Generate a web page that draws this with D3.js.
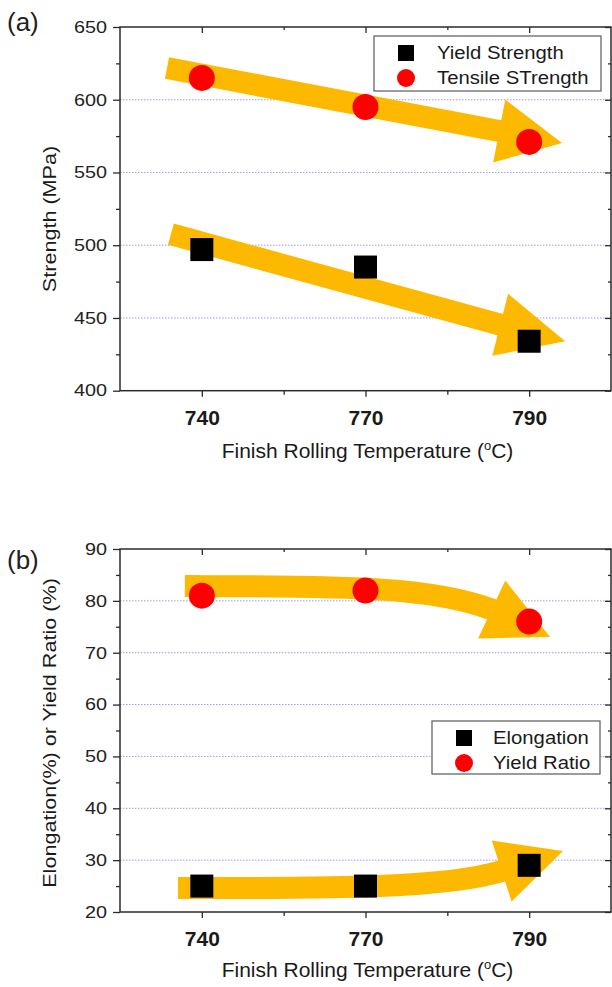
<!DOCTYPE html>
<html>
<head>
<meta charset="utf-8">
<script src="https://cdn.jsdelivr.net/npm/d3@7"></script>
<style>
  html, body { margin: 0; padding: 0; background: #fff; }
  svg { display: block; font-family: "Liberation Sans", Arial, sans-serif; }
</style>
</head>
<body>
<script>
// ---------------- data ----------------
const categories = ["740", "770", "790"];
const yieldStrength = [497, 485, 434];
const tensileStrength = [615, 595, 571];
const elongation = [25, 25, 29];
const yieldRatio = [81, 82, 76];
const strengthTicks = [400, 450, 500, 550, 600, 650];
const strengthMinor = [425, 475, 525, 575, 625];
const percentTicks = [20, 30, 40, 50, 60, 70, 80, 90];
const percentMinor = [25, 35, 45, 55, 65, 75, 85];
const xMinor = [0.5, 1.5];
// trend arrows (annotation) in data coordinates: [category index, value]
const arrowTensileShaft = [[-0.213, 621.8], [1.817, 578.5]];
const arrowTensileTip = [2.201, 570.2];
const arrowYieldShaft = [[-0.189, 507.6], [1.823, 445.4]];
const arrowYieldTip = [2.220, 434.0];
const arrowRatioShaft = [[-0.104, 82.87], [0.780, 82.7], [1.375, 83.1], [1.771, 78.33]];
const arrowRatioTip = [2.128, 73.03];
const arrowElongShaft = [[-0.146, 24.63], [0.720, 24.63], [1.482, 24.44], [1.832, 27.91]];
const arrowElongTip = [2.207, 31.77];

// ---------------- setup ----------------
const W = 612, H = 987;
const svg = d3.select("body").append("svg").attr("width", W).attr("height", H);
const ORANGE = "#FDB800";
const AXIS = "#2b2b2b";
const GRID = "#9a9af0";

const x = d3.scaleLinear().domain([-0.5, 2.5]).range([120, 611]);

function drawArrow(g, y, shaft, tip) {
  const pts = shaft.map(p => [x(p[0]), y(p[1])]);
  const t = [x(tip[0]), y(tip[1])];
  const end = pts[pts.length - 1];
  const dx = t[0] - end[0], dy = t[1] - end[1];
  const L = Math.hypot(dx, dy);
  const ux = dx / L, uy = dy / L;
  const p = d3.path();
  p.moveTo(pts[0][0], pts[0][1]);
  if (pts.length === 4) p.bezierCurveTo(pts[1][0], pts[1][1], pts[2][0], pts[2][1], end[0], end[1]);
  else p.lineTo(end[0], end[1]);
  p.lineTo(end[0] + ux * 6, end[1] + uy * 6);
  g.append("path").attr("d", p.toString()).attr("fill", "none")
    .attr("stroke", ORANGE).attr("stroke-width", 22).attr("stroke-linecap", "butt");
  const hw = 32, nx = -uy, ny = ux;
  g.append("polygon")
    .attr("points", [[end[0] + nx * hw, end[1] + ny * hw], t, [end[0] - nx * hw, end[1] - ny * hw]].map(q => q.join(",")).join(" "))
    .attr("fill", ORANGE);
}

function panel(opts) {
  const { top, bottom, domain, ticks, minor, label, ytitle, ytitleY, legend, series, arrows, xtitleY, letterY } = opts;
  const left = 120, right = 611;
  const y = d3.scaleLinear().domain(domain).range([bottom, top]);
  const g = svg.append("g");

  // panel letter
  g.append("text").attr("x", 7).attr("y", letterY).attr("font-size", 26).attr("fill", "#222").text(label);

  // grid (dotted)
  g.append("g").selectAll("line").data(ticks.filter(v => v !== domain[0] && v !== domain[1]))
    .join("line")
    .attr("x1", left).attr("x2", right).attr("y1", d => y(d)).attr("y2", d => y(d))
    .attr("stroke", GRID).attr("stroke-width", 1).attr("stroke-dasharray", "1.5,1.5");

  // arrows
  const ga = g.append("g");
  arrows.forEach(a => drawArrow(ga, y, a[0], a[1]));

  // markers
  series.forEach(s => {
    const vals = s.values;
    if (s.shape === "square") {
      g.append("g").selectAll("rect").data(vals).join("rect")
        .attr("x", (d, i) => x(i) - 11.5).attr("y", d => y(d) - 11.5)
        .attr("width", 23).attr("height", 23).attr("fill", "#000");
    } else {
      g.append("g").selectAll("circle").data(vals).join("circle")
        .attr("cx", (d, i) => x(i)).attr("cy", d => y(d)).attr("r", 13).attr("fill", "#ff0000");
    }
  });

  // axes
  const axL = g.append("g").attr("transform", `translate(${left},0)`)
    .call(d3.axisLeft(y).tickValues(ticks).tickSize(7).tickPadding(6).tickSizeOuter(0));
  axL.select(".domain").remove();
  axL.selectAll("line").attr("stroke", AXIS).attr("stroke-width", 1.3);
  axL.selectAll("text").attr("font-size", 16.5).attr("fill", "#222")
    .attr("font-family", "Liberation Sans, Arial, sans-serif")
    .attr("x", -13 / 1.2).attr("transform", "scale(1.2,1)");
  const axLm = g.append("g").attr("transform", `translate(${left},0)`)
    .call(d3.axisLeft(y).tickValues(minor).tickSize(4).tickFormat(""));
  axLm.select(".domain").remove();
  axLm.selectAll("line").attr("stroke", AXIS).attr("stroke-width", 1.3);

  const axR = g.append("g").attr("transform", `translate(${right},0)`)
    .call(d3.axisRight(y).tickValues(ticks).tickSize(-6).tickFormat(""));
  axR.select(".domain").remove();
  axR.selectAll("line").attr("stroke", AXIS).attr("stroke-width", 1.3);
  const axRm = g.append("g").attr("transform", `translate(${right},0)`)
    .call(d3.axisRight(y).tickValues(minor).tickSize(-3).tickFormat(""));
  axRm.select(".domain").remove();
  axRm.selectAll("line").attr("stroke", AXIS).attr("stroke-width", 1.3);

  const axB = g.append("g").attr("transform", `translate(0,${bottom})`)
    .call(d3.axisBottom(x).tickValues([0, 1, 2]).tickSize(6).tickFormat(i => categories[i]));
  axB.select(".domain").remove();
  axB.selectAll("line").attr("stroke", AXIS).attr("stroke-width", 1.3);
  axB.selectAll("text").attr("font-size", 21).attr("font-weight", "bold").attr("fill", "#1a1a1a")
    .attr("font-family", "Liberation Sans, Arial, sans-serif")
    .attr("y", 19.5);
  const axBm = g.append("g").attr("transform", `translate(0,${bottom})`)
    .call(d3.axisBottom(x).tickValues(xMinor).tickSize(4).tickFormat(""));
  axBm.select(".domain").remove();
  axBm.selectAll("line").attr("stroke", AXIS).attr("stroke-width", 1.3);

  const axT = g.append("g").attr("transform", `translate(0,${top})`)
    .call(d3.axisTop(x).tickValues([0, 1, 2]).tickSize(-6).tickFormat(""));
  axT.select(".domain").remove();
  axT.selectAll("line").attr("stroke", AXIS).attr("stroke-width", 1.3);
  const axTm = g.append("g").attr("transform", `translate(0,${top})`)
    .call(d3.axisTop(x).tickValues(xMinor).tickSize(-3).tickFormat(""));
  axTm.select(".domain").remove();
  axTm.selectAll("line").attr("stroke", AXIS).attr("stroke-width", 1.3);

  // frame
  g.append("rect").attr("x", left).attr("y", top).attr("width", right - left).attr("height", bottom - top)
    .attr("fill", "none").attr("stroke", AXIS).attr("stroke-width", 1.5);

  // y title
  g.append("g").attr("transform", `translate(50,${ytitleY}) rotate(-90)`)
    .append("text").attr("text-anchor", "middle").attr("dy", "0.35em")
    .attr("transform", "scale(1.2,1)").attr("font-size", 18).attr("fill", "#1a1a1a").text(ytitle);

  // x title
  const xt = g.append("text").attr("x", (left + right) / 2 + 2).attr("y", xtitleY).attr("text-anchor", "middle")
    .attr("font-size", 21).attr("fill", "#1a1a1a");
  xt.append("tspan").text("Finish Rolling Temperature (");
  xt.append("tspan").attr("font-size", 13).attr("dy", -8).text("o");
  xt.append("tspan").attr("dy", 8).text("C)");

  // legend
  const lg = g.append("g");
  lg.append("rect").attr("x", legend.x).attr("y", legend.y).attr("width", legend.w).attr("height", legend.h)
    .attr("fill", "#fff").attr("stroke", "#666").attr("stroke-width", 1.3);
  legend.items.forEach((it, k) => {
    const cy = legend.y + 17 + k * 25;
    if (it.shape === "square") {
      lg.append("rect").attr("x", legend.mx - 8).attr("y", cy - 8).attr("width", 16).attr("height", 16).attr("fill", "#000");
    } else {
      lg.append("circle").attr("cx", legend.mx).attr("cy", cy).attr("r", 9).attr("fill", "#ff0000");
    }
    lg.append("g").attr("transform", `translate(${legend.tx},${cy})`)
      .append("text").attr("dy", "0.36em").attr("font-size", 17.5).attr("fill", "#1a1a1a")
      .attr("transform", "scale(1.16,1)").text(it.name);
  });
}

panel({
  top: 27, bottom: 390.7, domain: [400, 650], ticks: strengthTicks, minor: strengthMinor,
  label: "(a)", letterY: 31, ytitle: "Strength (MPa)", ytitleY: 219, xtitleY: 458,
  legend: { x: 374, y: 36, w: 227, h: 55, mx: 406, tx: 437,
    items: [{ shape: "square", name: "Yield Strength" }, { shape: "circle", name: "Tensile STrength" }] },
  series: [{ shape: "square", values: yieldStrength }, { shape: "circle", values: tensileStrength }],
  arrows: [[arrowTensileShaft, arrowTensileTip], [arrowYieldShaft, arrowYieldTip]]
});

panel({
  top: 549, bottom: 912, domain: [20, 90], ticks: percentTicks, minor: percentMinor,
  label: "(b)", letterY: 569, ytitle: "Elongation(%) or Yield Ratio (%)", ytitleY: 733, xtitleY: 977,
  legend: { x: 432, y: 721, w: 168, h: 53, mx: 464, tx: 493,
    items: [{ shape: "square", name: "Elongation" }, { shape: "circle", name: "Yield Ratio" }] },
  series: [{ shape: "square", values: elongation }, { shape: "circle", values: yieldRatio }],
  arrows: [[arrowRatioShaft, arrowRatioTip], [arrowElongShaft, arrowElongTip]]
});
</script>
</body>
</html>
